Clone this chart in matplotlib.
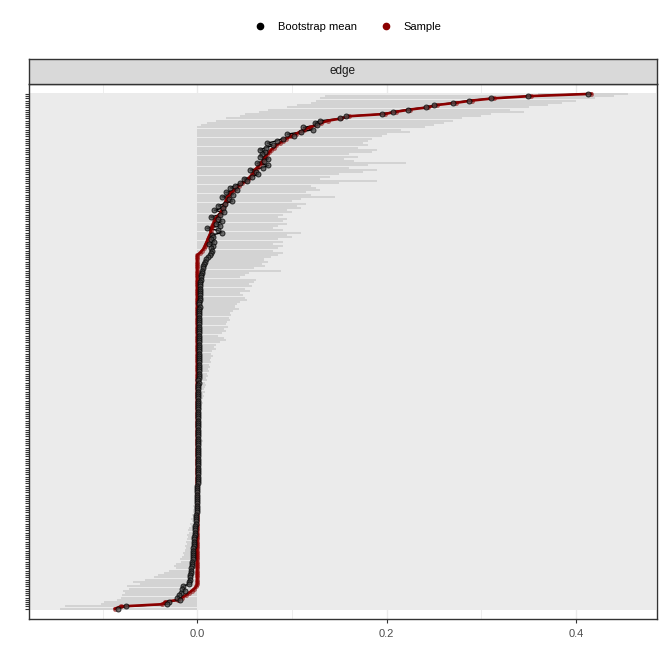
import matplotlib
matplotlib.use("Agg")
import matplotlib.pyplot as plt
from matplotlib.lines import Line2D
from matplotlib.patches import Rectangle
import numpy as np

plt.rcParams['font.family'] = ['Liberation Sans', 'DejaVu Sans']

# edges ordered from the strongest (top of the panel) down to the weakest (bottom)
sample = [
    .416, .352, .313, .290, .273, .253, .244, .225, .210, .198,
    .160, .152, .138, .131, .125, .119, .113, .108, .104, .099,
    .094, .090, .087, .083, .081, .078, .076, .074, .072, .070,
    .069, .067, .065, .063, .061, .060, .058, .056, .054, .051,
    .047, .044, .041, .039, .036, .034, .032, .031, .030, .029,
    .028, .027, .026, .025, .023, .021, .019, .018, .017, .016,
    .015, .014, .014, .013, .012, .011, .010, .009, .008, .007,
    .005, .003,
] + [0.0] * 148 + [
    -.001, -.003, -.006, -.009, -.012, -.016, -.020, -.034, -.037, -.081, -.087,
]

boot_mean = [
    .413, .349, .310, .287, .270, .250, .241, .222, .207, .195,
    .157, .151, .130, .124, .126, .112, .122, .110, .095, .102,
    .090, .084, .074, .080, .073, .066, .072, .068, .066, .075,
    .070, .063, .075, .069, .056, .062, .064, .058, .049, .052,
    .045, .040, .035, .042, .030, .038, .026, .034, .037, .029,
    .022, .027, .018, .028, .024, .014, .022, .026, .020, .024,
    .010, .022, .026, .016, .017, .014, .018, .012, .017, .015,
    .016, .015,
    .013, .011, .009, .008, .007, .006, .006, .005, .005, .004,
    .004, .004, .003, .003, .003, .003, .003, .0025, .0025, .0025,
    .0025, .002, .002, .0025, .002, .002, .002, .002, .0018, .002,
    .0018, .002, .0018, .0018, .0017, .0018, .0017, .0016, .0017, .0016,
    .0016, .0015, .0016, .0015, .0015, .0015, .0014, .0015, .0014, .0014,
    .0014, .0013, .0014, .0013, .0013, .0013, .0012, .0013, .0012, .0012,
    .0012, .0012, .0011, .0012, .0011, .0011, .0011, .001, .0011, .001,
    .001, .001, .001, .001, .0009, .001, .0009, .0009, .0009, .0009,
    .0009, .0008, .0009, .0008, .0008, .0008, .0008, .0007, .0008, .0007,
    .0007, .0007, .0007, .0006, .0007, .0006, .0006, .0006, .0006, .0005,
    .0004, .0003, .0003, .0002, .0002, .0001, .0001, 0, 0, -.0001,
    -.0002, -.0003, -.0004, -.0005, -.0006, -.0008, -.001, -.0012, -.0014, -.0016,
    -.0018, -.002, -.0022, -.0024, -.0026, -.0028, -.003, -.0032, -.0034, -.0036,
    -.0038, -.004, -.0042, -.0044, -.0046, -.0048, -.005, -.0053, -.0056, -.006,
    -.0063, -.0066, -.007, -.0073, -.0077, -.008, -.0085, -.009,
    -.015, -.016, -.013, -.017, -.019, -.021, -.018, -.030, -.032, -.075, -.084,
]

ci_lower = [
    .360, .135, .130, .125, .120, .105, .095, .075, .065, .050,
    .045, .030, .020, .010, .004,
] + [0.0] * 169 + [
    -.004, -.003, -.005, -.004, -.006, -.005, -.007, -.006, -.008, -.007,
    -.009, -.010, -.009, -.011, -.010, -.011, -.012, -.011, -.013, -.012,
    -.013, -.015, -.014, -.016, -.018, -.017, -.022, -.025, -.023, -.030,
    -.035, -.042, -.046, -.055, -.068, -.060,
    -.074, -.072, -.078, -.076, -.080, -.081, -.085, -.099, -.102, -.140, -.145,
]

ci_upper = [
    .455, .440, .420, .400, .385, .370, .350, .330, .345, .310,
    .300, .280, .270, .260, .250, .240, .215, .225, .200, .195,
    .185, .180, .175, .180, .170, .190, .185, .160, .170, .155,
    .165, .220, .180, .160, .190, .175, .150, .140, .130, .190,
    .150, .120, .125, .130, .115, .120, .145, .110, .100, .115,
    .105, .110, .095, .100, .090, .085, .095, .090, .095, .085,
    .080, .090, .110, .095, .100, .085, .090, .080, .090, .085,
    .080, .090, .085, .078, .070, .075, .068, .072, .060, .088,
    .055, .050, .045, .062, .060, .055, .058, .050, .056, .045,
    .048, .050, .052, .045, .042, .040, .044, .038, .035, .036,
    .033, .035, .031, .030, .032, .028, .030, .026, .022, .028,
    .030, .024, .020, .018, .020, .016, .015, .017, .014, .013,
    .015, .012, .013, .011, .012, .010, .011, .009, .010, .008,
    .009, .008, .007, .008, .006, .007, .006, .005, .006, .005,
    .004, .005, .004, .003, .004, .004, .003, .003, .004, .003,
    .003, .002, .003, .002, .003, .006, .002, .003, .002, .004,
    .002, .003, .002, .002, .003, .002, .002, .004, .002, .002,
    .003, .002, .002, .002, .001, .002, .002, .001, .002, .001,
    .001, .002, .001, .001, .001, .001, .001, .001, .0005, .001,
    .0005, .0005, .0005, .0005, .0005, .0005, .0003, .0003, .0003, .0003,
    .0003, .0002, .0002, .0002, .0001, .0001, 0, 0, 0, 0,
    0, 0, 0, 0, 0, 0, 0, 0, 0, 0,
    0, 0, 0, 0, 0, 0, 0, 0, 0, 0, 0,
]

x_breaks = [0.0, 0.2, 0.4]
x_labels = ["0.0", "0.2", "0.4"]
x_minor = [-0.1, 0.1, 0.3]
strip_label = "edge"
legend_labels = ["Bootstrap mean", "Sample"]

RED = "#8B0000"
DARK = "#333333"


def main():
    n = len(sample)
    ypos = np.arange(n)[::-1]
    lower = np.array(ci_lower)
    upper = np.array(ci_upper)

    fig = plt.figure(figsize=(6.64, 6.64), dpi=100)
    ax = fig.add_axes([29 / 664, 45 / 664, 627.5 / 664, 535 / 664])
    xlim = (-0.1777, 0.4849)
    ax.set_xlim(*xlim)
    ax.set_ylim(-4.6, n - 1 + 4.4)

    # grid, then the band of per-edge horizontal grid lines (looks solid)
    for x in x_breaks:
        ax.axvline(x, color="#EBEBEB", lw=1.0, zorder=0)
    for x in x_minor:
        ax.axvline(x, color="#EBEBEB", lw=0.6, zorder=0)
    ax.add_patch(Rectangle((xlim[0], -0.5), xlim[1] - xlim[0], n,
                           facecolor="#EBEBEB", edgecolor="none", zorder=0.5))

    # bootstrap CI
    ax.barh(ypos, upper - lower, left=lower, height=0.9,
            color="#D3D3D3", linewidth=0, zorder=1)

    ax.plot(boot_mean, ypos, color="black", lw=1.0, zorder=2)
    ax.plot(sample, ypos, color=RED, lw=1.9, zorder=3)
    ax.scatter(sample, ypos, s=13, color=RED, alpha=0.55, linewidths=0, zorder=4)
    ax.scatter(boot_mean, ypos, s=13, facecolor="#4A4A4A", edgecolor="black",
               linewidths=0.7, alpha=0.75, zorder=5)

    ax.set_xticks(x_breaks)
    ax.set_xticklabels(x_labels, fontsize=8, color="#4D4D4D")
    ax.set_yticks(ypos)
    ax.set_yticklabels([])
    ax.tick_params(axis="both", length=3, width=0.8, color=DARK)
    ax.tick_params(axis="x", pad=4)
    for s in ax.spines.values():
        s.set_color(DARK)
        s.set_linewidth(1.0)

    # facet strip
    strip = fig.add_axes([29 / 664, (664 - 83.5) / 664, 627.5 / 664, 24.5 / 664])
    strip.set_facecolor("#D9D9D9")
    strip.set_xticks([])
    strip.set_yticks([])
    for s in strip.spines.values():
        s.set_color(DARK)
        s.set_linewidth(1.0)
    strip.text(0.5, 0.5, strip_label, ha="center", va="center",
               fontsize=8.5, color="#1A1A1A", transform=strip.transAxes)

    handles = [
        Line2D([], [], marker="o", linestyle="", color="black", markersize=4.5),
        Line2D([], [], marker="o", linestyle="", color=RED, markersize=4.5),
    ]
    fig.legend(handles, legend_labels, loc="center", bbox_to_anchor=(0.524, 1 - 27 / 664),
               ncol=2, frameon=False, fontsize=8, handlelength=1.0,
               handletextpad=1.1, columnspacing=2.1)

    fig.savefig("out.png", dpi=100)
    plt.close(fig)


if __name__ == "__main__":
    main()
